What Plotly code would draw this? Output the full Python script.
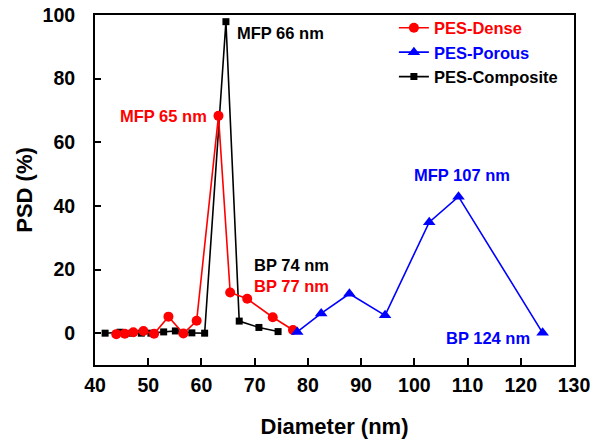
import plotly.graph_objects as go

# Data
dense_x = [44.0, 45.6, 47.2, 49.1, 51.1, 53.8, 56.6, 59.1, 63.2, 65.4, 68.6, 73.4, 77.2]
dense_y = [-0.3, -0.2, 0.3, 0.7, -0.2, 5.2, -0.1, 3.9, 68.3, 12.8, 10.8, 5.0, 1.0]

porous_x = [78.0, 82.5, 87.8, 94.5, 102.8, 108.3, 124.1]
porous_y = [0.4, 6.2, 12.4, 5.6, 34.9, 42.9, 0.1]

comp_x = [41.9, 44.7, 46.9, 48.7, 50.5, 52.9, 55.1, 58.2, 60.6, 64.6, 67.1, 70.8, 74.4]
comp_y = [0.0, 0.3, 0.0, 0.0, 0.0, 0.4, 0.7, 0.1, 0.0, 97.9, 3.8, 1.8, 0.5]

x_ticks = [40, 50, 60, 70, 80, 90, 100, 110, 120, 130]
y_ticks = [0, 20, 40, 60, 80, 100]

labels = [
    ("MFP 66 nm", 74.8, 94.5, "black"),
    ("MFP 65 nm", 52.8, 68.4, "#ff0000"),
    ("BP 74 nm", 77.0, 21.4, "black"),
    ("BP 77 nm", 77.0, 14.8, "#ff0000"),
    ("MFP 107 nm", 109.0, 49.6, "#0000ff"),
    ("BP 124 nm", 113.8, -1.5, "#0000ff"),
]

FONT = "Liberation Sans, Arial, sans-serif"

fig = go.Figure()
fig.add_trace(go.Scatter(
    x=comp_x, y=comp_y, mode="lines+markers",
    name="<b><span style='color:black'>PES-Composite</span></b>",
    line=dict(color="black", width=1.6),
    marker=dict(symbol="square", size=7, color="black"),
    legendrank=3,
))
fig.add_trace(go.Scatter(
    x=dense_x, y=dense_y, mode="lines+markers",
    name="<b><span style='color:#ff0000'>PES-Dense</span></b>",
    line=dict(color="#ff0000", width=1.6),
    marker=dict(symbol="circle", size=10, color="#ff0000"),
    legendrank=1,
))
fig.add_trace(go.Scatter(
    x=porous_x, y=porous_y, mode="lines+markers",
    name="<b><span style='color:#0000ff'>PES-Porous</span></b>",
    line=dict(color="#0000ff", width=1.6),
    marker=dict(symbol="triangle-up", size=11, color="#0000ff"),
    legendrank=2,
))

for txt, x, y, c in labels:
    fig.add_annotation(x=x, y=y, xref="x", yref="y", text=f"<b>{txt}</b>",
                       showarrow=False, font=dict(family=FONT, size=16.5, color=c))

fig.update_layout(
    width=601, height=441,
    margin=dict(l=95, r=27, t=14, b=76),
    paper_bgcolor="white", plot_bgcolor="white",
    font=dict(family=FONT, color="black"),
    showlegend=True,
    legend=dict(x=0.624, y=1.01, xanchor="left", yanchor="top",
                font=dict(family=FONT, size=16.5), bgcolor="rgba(0,0,0,0)",
                tracegroupgap=0),
)
fig.update_xaxes(
    range=[40, 130], tickvals=x_ticks, ticktext=[f"<b>{v}</b>" for v in x_ticks],
    ticks="inside", ticklen=7, tickwidth=2, tickcolor="black",
    showline=True, linewidth=2, linecolor="black", mirror=True,
    showgrid=False, zeroline=False, automargin=False, ticklabeloverflow="allow",
    tickfont=dict(family=FONT, size=19.5), ticklabelstandoff=2,
    title=dict(text="<b>Diameter (nm)</b>", font=dict(family=FONT, size=22), standoff=23),
)
fig.update_yaxes(
    range=[-10, 100], tickvals=y_ticks, ticktext=[f"<b>{v}</b>" for v in y_ticks],
    ticks="inside", ticklen=6, tickwidth=2, tickcolor="black",
    showline=True, linewidth=2, linecolor="black", mirror=True,
    showgrid=False, zeroline=False, automargin=False, ticklabeloverflow="allow",
    tickfont=dict(family=FONT, size=19.5), ticklabelstandoff=14,
    title=dict(text="<b>PSD (%)</b>", font=dict(family=FONT, size=22), standoff=4),
)

fig.write_html("out.html", config={"displayModeBar": False},
               post_script="document.body.style.margin='0';")
